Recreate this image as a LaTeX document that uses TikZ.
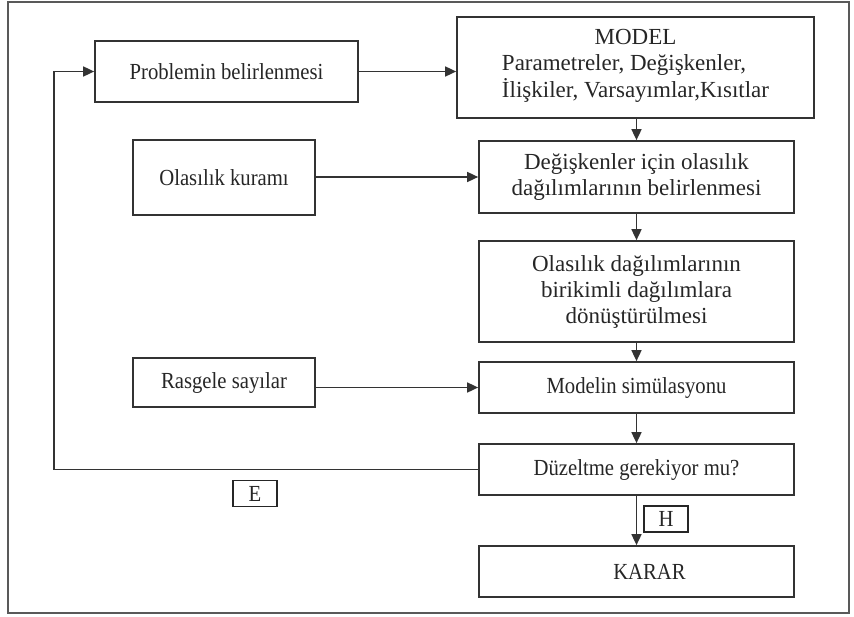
\documentclass[tikz,border=0pt]{standalone}
\usepackage{fontspec}
\setmainfont{Liberation Serif}
\newfontfamily\narrowfont[FakeStretch=0.9]{Liberation Serif}
\usepackage{tikz}
\usetikzlibrary{arrows.meta, positioning, calc}

\begin{document}
\begin{tikzpicture}[
  x=1pt, y=-1pt,
  every node/.style={font=\fontsize{23}{26}\selectfont, text=black!85},
  stepbox/.style={rectangle, draw=black!80, line width=1.7pt, align=center,
                  inner sep=0pt},
  oneline/.style={font=\narrowfont\fontsize{23}{26}\selectfont},
  mainbox/.style={stepbox, minimum width=315pt},
  sidebox/.style={stepbox, oneline, minimum width=182pt},
  tag/.style={rectangle, draw=black!85, line width=1.7pt, minimum width=44pt,
              minimum height=26pt, inner sep=0pt, font=\narrowfont\fontsize{23}{24}\selectfont},
  arrow/.style={-{Triangle[length=11pt, width=10pt]}, line width=1.6pt, draw=black!80},
]
\useasboundingbox (0,0) rectangle (854,616);
\draw[black!65, line width=2pt] (8,2) rectangle (849,613);

% Left column
\node[stepbox, oneline, minimum width=263pt, minimum height=61pt] (prob) at (226.5, 71.5) {Problemin belirlenmesi};
\node[sidebox, minimum height=75pt] (kuram) at (224, 177.5) {Olas\i l\i k kuram\i};
\node[sidebox, minimum height=49pt] (rasgele) at (224, 382.5) {Rasgele say\i lar};

% Right column
\node[stepbox, minimum width=357pt, minimum height=101pt] (model) at (635.5, 67.5)
  {MODEL\\\begin{tabular}[t]{@{}l@{}}Parametreler, Değişkenler,\\İlişkiler, Varsay\i mlar,K\i s\i tlar\end{tabular}};
\node[mainbox, minimum height=72pt] (dagilim) at (636.5, 177) {Değişkenler için olas\i l\i k\\dağ\i l\i mlar\i n\i n belirlenmesi};
\node[mainbox, minimum height=101pt] (birikim) at (636.5, 291.5) {Olas\i l\i k dağ\i l\i mlar\i n\i n\\birikimli dağ\i l\i mlara\\dönüştürülmesi};
\node[mainbox, oneline, minimum height=51pt] (sim) at (636.5, 387.5) {Modelin simülasyonu};
\node[mainbox, oneline, minimum height=51pt] (duz) at (636.5, 469.5) {Düzeltme gerekiyor mu?};
\node[mainbox, oneline, minimum height=51pt] (karar) at (636.5, 571.5) {\hspace*{26pt}KARAR};

% Answer tags
\node[tag] (evet) at (255, 493.5) {E};
\node[tag] (hayir) at (666, 519) {H};

% Connectors
\draw[arrow] (prob.east) -- (prob.east -| model.west);
\draw[arrow] (model.south -| dagilim.north) -- (dagilim.north);
\draw[arrow] (kuram.east |- dagilim.west) -- (dagilim.west);
\draw[arrow] (dagilim) -- (birikim);
\draw[arrow] (birikim) -- (sim);
\draw[arrow] (rasgele.east |- sim.west) -- (sim.west);
\draw[arrow] (sim) -- (duz);
\draw[arrow] (duz) -- (karar);

% Feedback loop
\coordinate (back) at (54, 0);
\draw[arrow] (duz.west) -- (duz.west -| back) |- (prob.west);

\end{tikzpicture}
\end{document}
